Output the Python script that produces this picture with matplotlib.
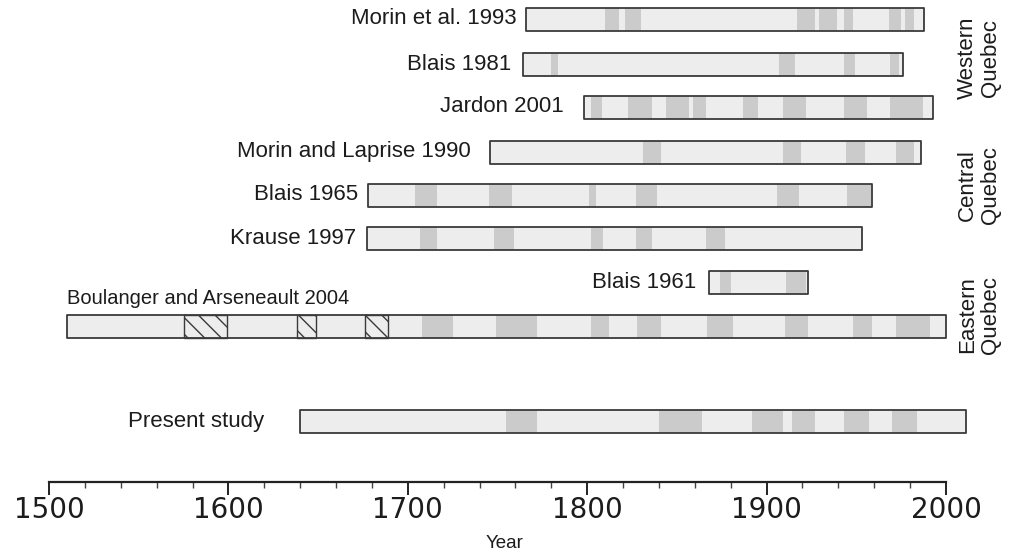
import matplotlib
matplotlib.use("Agg")
import matplotlib.pyplot as plt
from matplotlib.ticker import MultipleLocator

plt.rcParams['font.family'] = ['Liberation Sans', 'DejaVu Sans']
plt.rcParams['hatch.linewidth'] = 1.0

# Reconstructions (label, first year, last year, outbreak periods)
labels = ["Morin et al. 1993", "Blais 1981", "Jardon 2001", "Morin and Laprise 1990",
          "Blais 1965", "Krause 1997", "Blais 1961", "Boulanger and Arseneault 2004",
          "Present study"]
starts = [1766, 1764, 1798, 1746, 1678, 1677, 1868, 1510, 1640]
ends = [1988, 1976, 1993, 1986, 1959, 1953, 1923, 2000, 2011]
outbreaks = [
    [(1810, 1818), (1821, 1830), (1917, 1927), (1929, 1939), (1943, 1948), (1968, 1975), (1977, 1982)],
    [(1780, 1784), (1907, 1916), (1943, 1949), (1969, 1974)],
    [(1802, 1808), (1823, 1836), (1844, 1857), (1859, 1866), (1887, 1895), (1909, 1922), (1943, 1956), (1969, 1987)],
    [(1831, 1841), (1909, 1919), (1944, 1955), (1972, 1982)],
    [(1704, 1716), (1745, 1758), (1801, 1805), (1827, 1839), (1906, 1918), (1945, 1958)],
    [(1707, 1716), (1748, 1759), (1802, 1809), (1827, 1836), (1866, 1877)],
    [(1874, 1880), (1911, 1922)],
    [(1708, 1725), (1749, 1772), (1802, 1812), (1828, 1841), (1867, 1881), (1910, 1923), (1948, 1959), (1972, 1991)],
    [(1755, 1772), (1840, 1864), (1892, 1909), (1914, 1927), (1943, 1957), (1970, 1984)],
]
# uncertain (hatched) periods in Boulanger and Arseneault 2004
hatched = [(1575, 1599), (1638, 1649), (1676, 1689)]
regions = ["Western\nQuebec", "Central\nQuebec", "Eastern\nQuebec"]
xticks = [1500, 1600, 1700, 1800, 1900, 2000]

# layout (pixel rows, y measured from top)
row_y = [19, 64, 107, 152, 195, 238, 282, 326, 421]
label_gap = [10, 11, 20, 20, 10, 10, 13]
bar_h = 23
region_y = [58, 185, 315]

W, H = 1011, 559
fig = plt.figure(figsize=(W / 100, H / 100), dpi=100)
ax = fig.add_axes([49 / W, 1 - 482 / H, 897 / W, 482 / H])
ax.set_xlim(1500, 2000)
ax.set_ylim(482, 0)

fill_c = '#ededed'
band_c = '#cbcbcb'
edge_c = '#3a3a3a'
text_c = '#1c1c1c'

for i, lab in enumerate(labels):
    y0 = row_y[i] - bar_h / 2
    ax.broken_barh([(starts[i], ends[i] - starts[i])], (y0, bar_h),
                   facecolors=fill_c, edgecolors='none', clip_on=False, zorder=1)
    ax.broken_barh([(a, b - a) for a, b in outbreaks[i]], (y0, bar_h),
                   facecolors=band_c, edgecolors='none', clip_on=False, zorder=2)
    ax.broken_barh([(starts[i], ends[i] - starts[i])], (y0, bar_h),
                   facecolors='none', edgecolors=edge_c, linewidth=1.3,
                   clip_on=False, zorder=4)
    if i < 7:
        ax.annotate(lab, (starts[i], row_y[i]), xytext=(-label_gap[i] * 0.72, 0),
                    textcoords='offset points', ha='right', va='center',
                    fontsize=16, color=text_c)

# Boulanger and Arseneault: hatched periods and label above the bar
bi = 7
ax.broken_barh([(a, b - a) for a, b in hatched], (row_y[bi] - bar_h / 2, bar_h),
               facecolors=fill_c, edgecolors=edge_c, linewidth=1.0,
               hatch='\\\\', zorder=3)
ax.text(starts[bi], row_y[bi] - 27, labels[bi], ha='left', va='center',
        fontsize=14.5, color=text_c)

# Present study label
ax.text(1544, row_y[8], labels[8], ha='left', va='center', fontsize=16, color=text_c)

# region labels on the right
for r, yy in zip(regions, region_y):
    fig.text(979 / W, 1 - yy / H, r, rotation=90, ha='center', va='center',
             fontsize=16, color=text_c, linespacing=1.1, multialignment='center')

for s in ['top', 'right', 'left']:
    ax.spines[s].set_visible(False)
ax.spines['bottom'].set_linewidth(1.6)
ax.spines['bottom'].set_color('#222222')
ax.set_yticks([])
ax.set_xticks(xticks)
ax.xaxis.set_minor_locator(MultipleLocator(20))
ax.tick_params(axis='x', which='major', length=9, width=1.4, color='#222222',
               labelsize=20, pad=1, labelcolor=text_c)
ax.tick_params(axis='x', which='minor', length=4, width=1.0, color='#444444')
for t in ax.get_xticklabels():
    t.set_family('DejaVu Sans')

fig.text(505 / W, 1 - 543 / H, "Year", ha='center', va='center', fontsize=13.5, color=text_c)

fig.savefig("out.png", dpi=100, facecolor='white')
